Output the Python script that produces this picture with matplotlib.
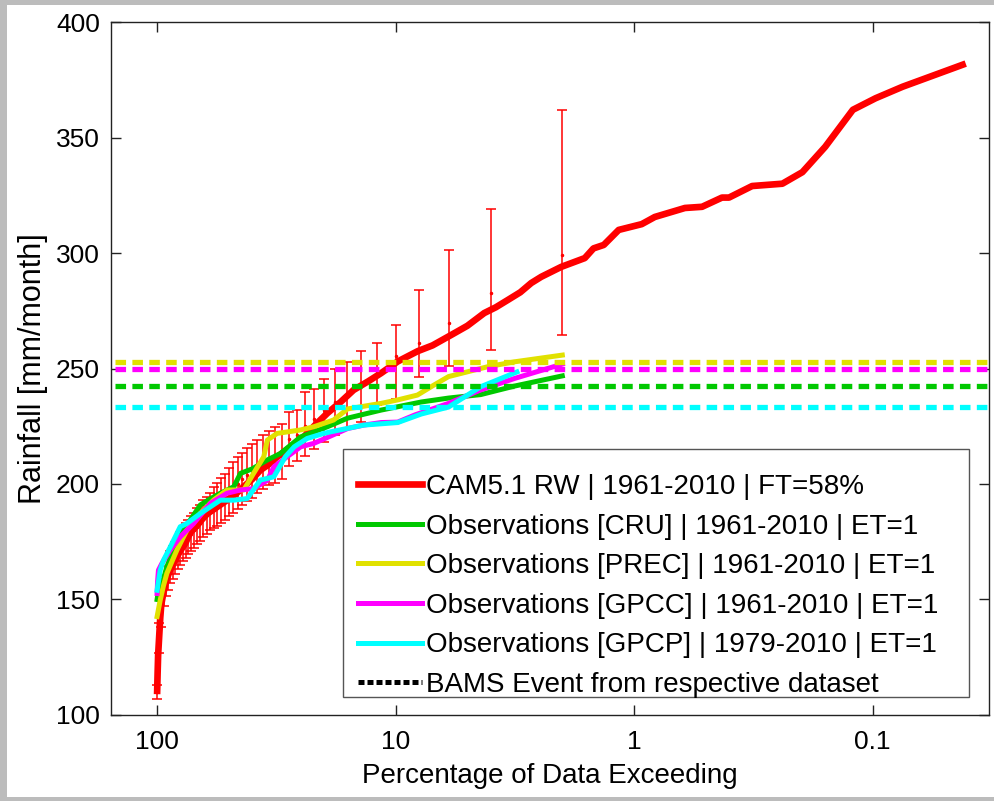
import numpy as np
import matplotlib
matplotlib.use("Agg")
import matplotlib.pyplot as plt
from matplotlib.lines import Line2D
from matplotlib.patches import Rectangle

plt.rcParams['font.family'] = ['Liberation Sans', 'DejaVu Sans']

# CAM5.1 RW exceedance curve (percent exceeding, mm/month)
cam_pct = [100, 99.5, 99, 98, 97, 96, 94, 92, 91, 88, 85, 82.6, 80, 76, 72.6, 68, 65,
           61.8, 57, 50.9, 47, 43.5, 40, 36.9, 34, 31.4, 28, 25, 22, 19.3, 17, 15, 13,
           11.5, 9.81, 8.08, 7, 5.85, 5, 4.25, 3.8, 3.38, 3, 2.7, 2.45, 2.02, 1.61, 1.48,
           1.34, 1.16, 0.929, 0.819, 0.612, 0.519, 0.428, 0.4, 0.32, 0.239, 0.197, 0.158,
           0.121, 0.0972, 0.0748, 0.0407]
cam_val = [109, 118, 126, 134, 142, 148, 153, 157, 159, 163, 166, 168.5, 171, 174.5, 179,
           182, 184.5, 187, 189.5, 193, 195.5, 198.7, 202, 206, 208.5, 211.7, 215.5, 219,
           225, 230.7, 235.5, 240.7, 244.5, 248, 253, 257.5, 260, 264.5, 268.5, 274, 276.5,
           279.7, 283, 287, 289.7, 294, 297.8, 302, 303.5, 310, 312.5, 315.6, 319.5, 320,
           324, 324, 329, 330, 335, 346, 362, 367, 372, 382]

# ensemble spread at every 2 percent
bar_pct = [100, 98, 96, 94, 92, 90, 88, 86, 84, 82, 80, 78, 76, 74, 72, 70, 68, 66, 64, 62,
           60, 58, 56, 54, 52, 50, 48, 46, 44, 42, 40, 38, 36, 34, 32, 30, 28, 26, 24, 22,
           20, 18, 16, 14, 12, 10, 8, 6, 4, 2]
bar_mid = [110, 133, 145, 153.5, 158, 161, 164, 166, 168, 170, 172, 173.5, 175.5, 177, 178.5,
           180, 181.5, 183, 185, 186.5, 188, 190, 191.5, 193, 194.5, 196.5, 198.5, 200, 202,
           204, 206, 207.5, 209.5, 211, 212.5, 214, 219.5, 221, 225, 228, 232, 235.5, 238.5,
           242.5, 248, 255.5, 261, 269.5, 282.5, 299]
bar_low = [107, 127, 138, 147, 151.5, 154, 157, 159, 161, 163, 165, 166.5, 168, 169.5, 171,
           172.5, 174, 175.5, 177, 178.5, 180, 181, 182, 183, 184.5, 186, 187.5, 189, 191,
           192.5, 194, 196, 198, 199.5, 200.5, 202, 208, 210, 212, 215, 218, 221, 224, 227,
           234, 237, 246.5, 251, 258, 264.5]
bar_high = [113, 140, 152, 160, 164.5, 168, 171, 173, 175, 177, 179, 181, 183, 184.5, 186,
            187.5, 189.5, 191, 193, 194.5, 196, 198.5, 200.5, 202.5, 204.5, 207, 209.5, 211.5,
            213.5, 215.5, 217.5, 219, 221, 223, 224.5, 226, 231, 232, 240, 241, 245.5, 250,
            253, 257.5, 261, 269, 284, 301.5, 319, 362]

# observations
cru_pct = [100, 99, 97, 94, 91, 86, 82.6, 77, 72.6, 65.9, 60, 54.3, 47.7, 44.7, 40, 34.5,
           30.4, 25, 19.3, 15.9, 11.5, 7.8, 6, 4.4, 3.17, 2]
cru_val = [150, 153, 154, 159, 164.2, 170.5, 175.8, 181, 184.4, 190.9, 193.5, 196, 198.8,
           204.6, 206.5, 210.4, 213.2, 220.4, 224.8, 228.5, 232, 235.5, 237.2, 238.7, 242.4,
           246.8]

prec_pct = [100, 97, 94, 91, 87, 82.6, 75, 70, 65.9, 58, 50.9, 46, 43.3, 39.4, 35.7, 34.5,
            31.4, 25, 22, 18.2, 15.9, 11.5, 9.8, 8.1, 7.1, 6, 4.1, 3.17, 2]
prec_val = [142.6, 149.8, 156, 161.3, 166, 171.4, 180, 184, 187.2, 193, 197.4, 197.4, 197.4,
            204.6, 211.8, 219, 221.9, 223.4, 224.8, 227.7, 232.5, 234.9, 236.4, 238.5, 242.1,
            246.5, 250.8, 252.9, 255.8]

gpcc_pct = [100, 99.5, 98.7, 95.6, 88.2, 80, 70.3, 59.8, 50.9, 44.7, 39.4, 34.5, 32.4, 28.5,
            25, 22, 15.9, 13.6, 11.5, 9.8, 8.3, 6, 4.4, 3.17, 2]
gpcc_val = [152.6, 158, 162.7, 165.5, 171.3, 177.1, 182.9, 191.6, 196, 197.4, 198, 201.6,
            207.4, 211.8, 216.1, 217.6, 224, 225.5, 226.6, 226.8, 229.9, 234.9, 240.7, 245.7,
            251.9]

gpcp_pct = [100, 97, 94, 88, 80, 75, 65.9, 54.3, 47.7, 41.9, 36.9, 32.4, 29, 26.6, 23.5, 20,
            18.7, 13.6, 9.8, 7.8, 6, 4.4, 3.1]
gpcp_val = [154, 162.8, 167, 172.8, 181.5, 182.9, 187.2, 193, 193, 193.7, 201.7, 203.1, 211.8,
            216.1, 219.7, 221.9, 222.6, 225.5, 226.6, 230.3, 233.3, 242.1, 248.5]

# BAMS event thresholds per dataset
event_prec = 252.9
event_gpcc = 249.8
event_cru = 242.4
event_gpcp = 233.2

c_red = '#ff0000'
c_green = '#00c800'
c_yellow = '#e1e100'
c_magenta = '#ff00ff'
c_cyan = '#00ffff'

fig = plt.figure(figsize=(9.94, 8.01), dpi=100)
fig.patch.set_facecolor('#bcbcbc')
fig.add_artist(Rectangle((0.007, 0.005), 0.993, 0.989, transform=fig.transFigure,
                         facecolor='white', edgecolor='none', zorder=0))
ax = fig.add_axes([0.1117, 0.1074, 0.8833, 0.8651])

xlo, xhi = 156, 0.0325

mid = np.array(bar_mid)
yerr = [mid - np.array(bar_low), np.array(bar_high) - mid]
ax.errorbar(bar_pct, bar_mid, yerr=yerr, fmt='.', color=c_red, ms=3, elinewidth=1.1,
            capsize=3.5, capthick=1.1, zorder=2)
ax.plot(cam_pct, cam_val, color=c_red, lw=4.8, solid_capstyle='butt', zorder=3)

obs_lw = 3.6
ax.plot(cru_pct, cru_val, color=c_green, lw=obs_lw, zorder=4)
ax.plot(prec_pct, prec_val, color=c_yellow, lw=obs_lw, zorder=4)
ax.plot(gpcc_pct, gpcc_val, color=c_magenta, lw=obs_lw, zorder=4)
ax.plot(gpcp_pct, gpcp_val, color=c_cyan, lw=obs_lw, zorder=4)

dash = (0, (2.0, 1.2))
for yv, col in [(event_prec, c_yellow), (event_gpcc, c_magenta),
                (event_cru, c_green), (event_gpcp, c_cyan)]:
    ax.plot([150, xhi], [yv, yv], color=col, lw=3.8, linestyle=dash, zorder=5)

ax.set_xscale('log')
ax.set_xlim(xlo, xhi)
ax.set_ylim(100, 400)
ax.set_xticks([100, 10, 1, 0.1])
ax.set_xticklabels(['100', '10', '1', '0.1'])
ax.xaxis.set_minor_locator(matplotlib.ticker.NullLocator())
ax.set_yticks(np.arange(100, 401, 50))
ax.tick_params(which='major', direction='in', length=7, width=1, top=True, right=True,
               labelsize=19, color='#222222')
ax.tick_params(axis='x', pad=11)
ax.tick_params(axis='y', pad=8)
for s in ax.spines.values():
    s.set_color('#222222')
    s.set_linewidth(1)

ax.set_xlabel('Percentage of Data Exceeding', fontsize=20, labelpad=6)
ax.set_ylabel('Rainfall [mm/month]', fontsize=22, labelpad=6)

# legend box drawn separately so the entries can sit low inside it
ax.add_patch(Rectangle((0.2642, 0.026), 0.713, 0.3579, transform=ax.transAxes,
                       facecolor='white', edgecolor='#555555', lw=1, zorder=8))

handles = [
    Line2D([], [], color=c_red, lw=4.8),
    Line2D([], [], color=c_green, lw=3.6),
    Line2D([], [], color=c_yellow, lw=3.6),
    Line2D([], [], color=c_magenta, lw=3.6),
    Line2D([], [], color=c_cyan, lw=3.6),
    Line2D([], [], color='black', lw=3.6, linestyle=(0, (1.2, 0.6))),
]
labels = [
    'CAM5.1 RW | 1961-2010 | FT=58%',
    'Observations [CRU] | 1961-2010 | ET=1',
    'Observations [PREC] | 1961-2010 | ET=1',
    'Observations [GPCC] | 1961-2010 | ET=1',
    'Observations [GPCP] | 1979-2010 | ET=1',
    'BAMS Event from respective dataset',
]
leg = ax.legend(handles, labels, loc='upper left', bbox_to_anchor=(0.2813, 0.3478),
                borderaxespad=0, borderpad=0, fontsize=20, handlelength=2.3,
                handletextpad=0.15, labelspacing=0.49, frameon=False)
leg.set_zorder(9)

fig.savefig('out.png', dpi=100, facecolor=fig.get_facecolor())
